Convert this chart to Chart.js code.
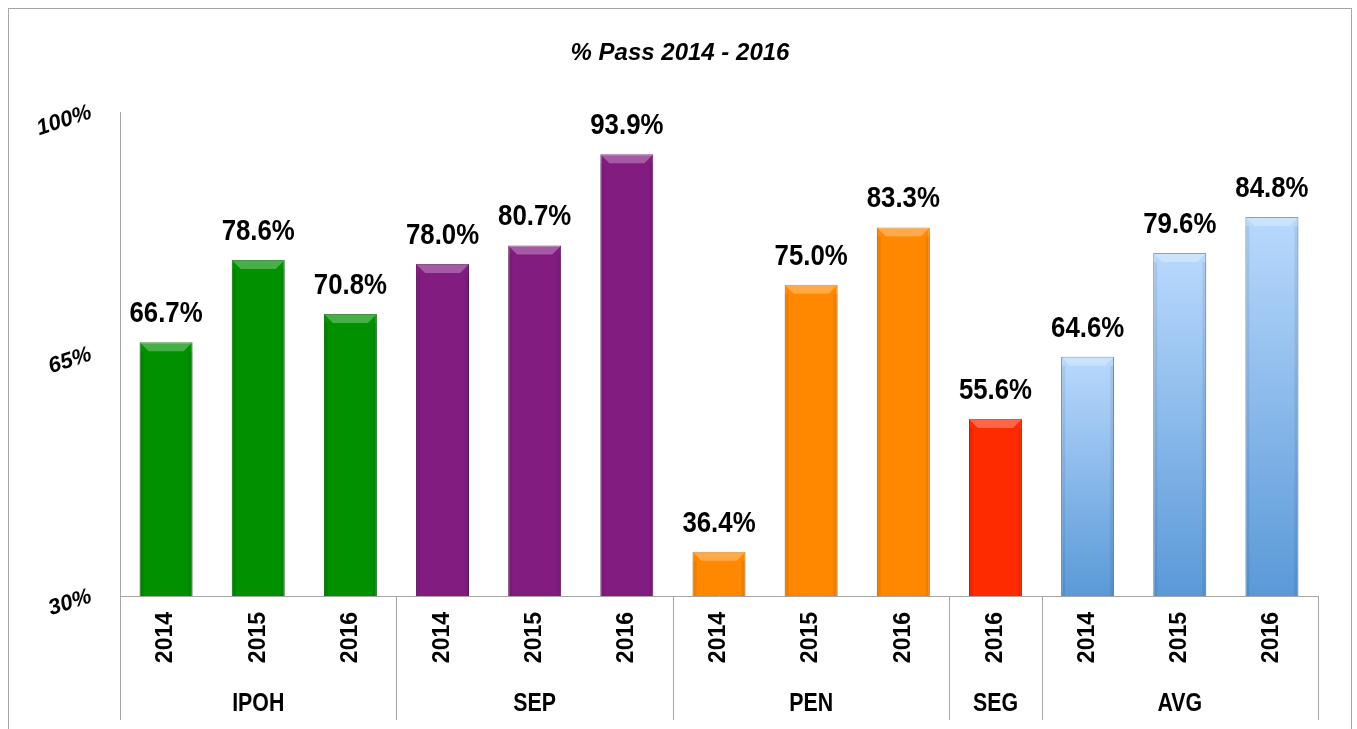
<!DOCTYPE html>
<html>
<head>
<meta charset="utf-8">
<script src="https://cdn.jsdelivr.net/npm/chart.js@4.4.1/dist/chart.umd.min.js"></script>
<style>
html,body{margin:0;padding:0;background:#fff;}
#wrap{width:1357px;height:729px;position:relative;}
</style>
</head>
<body>
<div id="wrap"><canvas id="c"></canvas></div>
<script>
// ---- data ----
const years = ['2014','2015','2016','2014','2015','2016','2014','2015','2016','2016','2014','2015','2016'];
const passRates = [66.7, 78.6, 70.8, 78.0, 80.7, 93.9, 36.4, 75.0, 83.3, 55.6, 64.6, 79.6, 84.8];
const groups = ['IPOH','SEP','PEN','SEG','AVG'];
const groupSizes = [3, 3, 3, 1, 3];
const yTicks = [30, 65, 100];
const titleText = '% Pass 2014 - 2016';

// ---- styles ----
const groupColors = {
  IPOH: {fill:'#009000', edge:'#006a00'},
  SEP:  {fill:'#821c80', edge:'#5e125c'},
  PEN:  {fill:'#ff8800', edge:'#c86400'},
  SEG:  {fill:'#ff2b00', edge:'#c41f00'},
  AVG:  {fill:'gradient', edge:'#4a84c0'}
};
const barGroup = [];
groups.forEach((g,i)=>{ for(let k=0;k<groupSizes[i];k++) barGroup.push(g); });

const SANS = '"Liberation Sans", Arial, sans-serif';
const GRAY = '#a6a6a6';

function barFill(ctx){
  const g = barGroup[ctx.dataIndex];
  const c = groupColors[g];
  if (c.fill !== 'gradient') return c.fill;
  const chart = ctx.chart;
  if (!chart.chartArea || !chart.scales.y) return '#8ab8ec';
  const yTop = chart.scales.y.getPixelForValue(ctx.raw);
  const yBot = chart.chartArea.bottom;
  const grd = chart.ctx.createLinearGradient(0, yTop, 0, yBot);
  grd.addColorStop(0, '#b9d9fd');
  grd.addColorStop(1, '#5a99d8');
  return grd;
}

const framePlugin = {
  id:'frame',
  beforeDraw(chart){
    const c = chart.ctx;
    c.save();
    c.strokeStyle = GRAY; c.lineWidth = 1;
    c.strokeRect(8.5, 8.5, 1343, 760);
    // title
    c.font = 'italic bold 24px ' + SANS;
    c.fillStyle = '#000';
    c.textAlign = 'center';
    c.textBaseline = 'middle';
    c.fillText(titleText, 680, 53);
    c.restore();
  }
};

const bevelPlugin = {
  id:'bevel',
  afterDatasetsDraw(chart){
    const c = chart.ctx;
    const meta = chart.getDatasetMeta(0);
    const bottom = chart.chartArea.bottom;
    c.save();
    meta.data.forEach(bar=>{
      const l = bar.x - bar.width/2, r = bar.x + bar.width/2, t = bar.y, b = Math.min(bar.base, bottom);
      const d = 9;
      c.beginPath();
      c.moveTo(l, t); c.lineTo(r, t); c.lineTo(r-d, t+d); c.lineTo(l+d, t+d); c.closePath();
      c.fillStyle = 'rgba(255,255,255,0.28)'; c.fill();
      c.fillStyle = 'rgba(0,0,0,0.07)';
      c.fillRect(l, t+d, 4, b-t-d);
      c.fillRect(r-4, t+d, 4, b-t-d);
    });
    c.restore();
  }
};

function drawCondensed(c, text, x, y, scaleX){
  c.save();
  c.translate(x, y);
  c.scale(scaleX, 1);
  c.fillText(text, 0, 0);
  c.restore();
}

const valueLabelPlugin = {
  id:'valueLabels',
  afterDatasetsDraw(chart){
    const c = chart.ctx;
    const meta = chart.getDatasetMeta(0);
    c.save();
    c.font = 'bold 30px ' + SANS;
    c.fillStyle = '#000';
    c.textAlign = 'center';
    c.textBaseline = 'alphabetic';
    meta.data.forEach((bar,i)=>{
      drawCondensed(c, passRates[i].toFixed(1) + '%', bar.x, bar.y - 20, 0.86);
    });
    c.restore();
  }
};

const groupAxisPlugin = {
  id:'groupAxis',
  afterDraw(chart){
    const c = chart.ctx;
    const xs = chart.scales.x;
    const n = years.length;
    const step = (xs.right - xs.left) / n;
    const top = chart.chartArea.bottom;
    const bottom = 720;
    c.save();
    c.strokeStyle = GRAY; c.lineWidth = 1;
    let idx = 0;
    const edges = [xs.left];
    c.font = 'bold 26px ' + SANS;
    c.fillStyle = '#000';
    c.textAlign = 'center';
    c.textBaseline = 'middle';
    groups.forEach((g,gi)=>{
      const x0 = xs.getPixelForValue(idx) - step/2;
      const x1 = xs.getPixelForValue(idx + groupSizes[gi] - 1) + step/2;
      edges.push(x1);
      drawCondensed(c, g, (x0 + x1)/2, 704, 0.82);
      idx += groupSizes[gi];
    });
    edges.forEach(x=>{
      const px = Math.round(x) + 0.5;
      c.beginPath(); c.moveTo(px, top); c.lineTo(px, bottom); c.stroke();
    });
    c.restore();
  }
};

new Chart(document.getElementById('c'), {
  type:'bar',
  data:{
    labels: years,
    datasets:[{
      data: passRates,
      backgroundColor: barFill,
      borderColor: (ctx)=>groupColors[barGroup[ctx.dataIndex]].edge,
      borderWidth: 1,
      borderSkipped: 'bottom',
      barPercentage: 0.575,
      categoryPercentage: 1.0
    }]
  },
  options:{
    responsive:true,
    maintainAspectRatio:false,
    animation:false,
    layout:{padding:{left:10, right:39, top:112, bottom:0}},
    plugins:{
      legend:{display:false},
      tooltip:{enabled:false},
      title:{display:false}
    },
    scales:{
      x:{
        grid:{display:false, drawTicks:false},
        border:{display:true, color:GRAY},
        ticks:{
          color:'#000',
          font:{family:SANS, size:23, weight:'bold'},
          minRotation:90, maxRotation:90,
          padding:16,
          autoSkip:false
        },
        afterFit:(s)=>{ s.height = 133; }
      },
      y:{
        min:30, max:100,
        afterBuildTicks:(s)=>{ s.ticks = yTicks.map(v=>({value:v})); },
        grid:{display:false, drawTicks:false},
        border:{display:true, color:GRAY},
        ticks:{
          color:'#000',
          font:{family:SANS, size:22, weight:'bold', style:'italic'},
          minRotation:18, maxRotation:18,
          padding:29,
          callback:(v)=>v + '%'
        },
        afterFit:(s)=>{ s.width = 110; }
      }
    }
  },
  plugins:[framePlugin, bevelPlugin, valueLabelPlugin, groupAxisPlugin]
});
</script>
</body>
</html>
